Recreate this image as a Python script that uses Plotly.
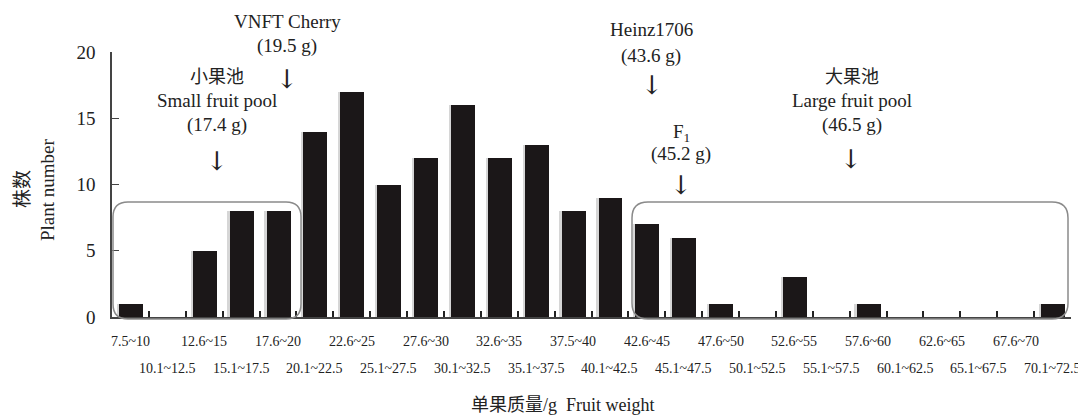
import plotly.graph_objects as go

categories = ["7.5~10", "10.1~12.5", "12.6~15", "15.1~17.5", "17.6~20", "20.1~22.5",
              "22.6~25", "25.1~27.5", "27.6~30", "30.1~32.5", "32.6~35", "35.1~37.5",
              "37.5~40", "40.1~42.5", "42.6~45", "45.1~47.5", "47.6~50", "50.1~52.5",
              "52.6~55", "55.1~57.5", "57.6~60", "60.1~62.5", "62.6~65", "65.1~67.5",
              "67.6~70", "70.1~72.5"]
plant_number = [1, 0, 5, 8, 8, 14, 17, 10, 12, 16, 12, 13, 8, 9, 7, 6, 1, 0, 3, 0, 1, 0, 0, 0, 0, 1]
y_ticks = [0, 5, 10, 15, 20]

FONT = "Liberation Serif, Times New Roman, Noto Sans CJK SC, serif"
ARROW_FONT = "DejaVu Serif, DejaVu Sans"
INK = "#222"

# page offset (browser default body margin)
OFF = 8
FW, FH = 1086 - OFF, 417 - OFF

fig = go.Figure()
fig.add_trace(go.Bar(x=categories, y=plant_number, marker=dict(color="#d6d6d6", line=dict(width=0)),
                     width=0.08, offset=-0.37, hoverinfo="skip"))
fig.add_trace(go.Bar(x=categories, y=plant_number, marker=dict(color="#1b1718", line=dict(width=0)),
                     width=0.65, offset=-0.31))

# plot area in page pixels
L, R, T, B = 112, 1071, 52, 317
W, H = R - L, B - T

def px(x):
    return (x - L) / W

def py(y):
    return (B - y) / H

def rounded_box(x0, y0, x1, y1, r):
    rx, ry = r / W, r / H
    a, b, c, d = px(x0), py(y1), px(x1), py(y0)  # left, bottom, right, top (paper)
    return (f"M {a},{b+ry} L {a},{d-ry} Q {a},{d} {a+rx},{d} L {c-rx},{d} Q {c},{d} {c},{d-ry} "
            f"L {c},{b+ry} Q {c},{b} {c-rx},{b} L {a+rx},{b} Q {a},{b} {a},{b+ry} Z")

shapes = [
    dict(type="path", xref="paper", yref="paper", path=rounded_box(113, 202, 301, 319, 15),
         line=dict(color="#8a8a8a", width=1.5)),
    dict(type="path", xref="paper", yref="paper", path=rounded_box(632, 202, 1068, 319, 16),
         line=dict(color="#8a8a8a", width=1.5)),
]

annotations = []
# category labels in two staggered rows
for i, c in enumerate(categories):
    annotations.append(dict(x=c, xref="x", y=py(341 if i % 2 == 0 else 368), yref="paper",
                            text=c, showarrow=False, font=dict(size=14, family=FONT, color=INK),
                            xanchor="center", yanchor="middle"))

def txt(xp, yp, t, size=19, family=FONT, angle=0):
    annotations.append(dict(x=px(xp), y=py(yp), xref="paper", yref="paper", text=t, showarrow=False,
                            font=dict(size=size, family=family, color=INK), textangle=angle,
                            xanchor="center", yanchor="middle"))

txt(287, 21, "VNFT Cherry")
txt(287, 46, "(19.5 g)")
txt(287, 79, "↓", 26, ARROW_FONT)
txt(217, 77, "小果池", 18)
txt(217, 101, "Small fruit pool")
txt(217, 125, "(17.4 g)")
txt(217, 161, "↓", 26, ARROW_FONT)
txt(651, 29, "Heinz1706")
txt(651, 56, "(43.6 g)")
txt(652, 85, "↓", 26, ARROW_FONT)
txt(681, 133, "F<sub>1</sub>")
txt(681, 154, "(45.2 g)")
txt(681, 185, "↓", 26, ARROW_FONT)
txt(852, 77, "大果池", 18)
txt(852, 101, "Large fruit pool")
txt(852, 125, "(46.5 g)")
txt(851, 159, "↓", 26, ARROW_FONT)
txt(563, 405, "单果质量/g  Fruit weight", 18)
txt(22, 189, "株数", 19, angle=-90)
txt(47, 190, "Plant number", 19, angle=-90)

fig.update_layout(
    width=FW, height=FH,
    margin=dict(l=L - OFF, r=FW - (R - OFF), t=T - OFF, b=FH - (B - OFF), pad=0),
    plot_bgcolor="white", paper_bgcolor="white",
    barmode="overlay", showlegend=False, bargap=0,
    font=dict(family=FONT, color=INK),
    shapes=shapes, annotations=annotations,
    xaxis=dict(type="category", showticklabels=False, ticks="inside", tickson="boundaries",
               ticklen=6, tickwidth=2, tickcolor=INK, showline=True, linecolor="#444",
               linewidth=1.5, showgrid=False, range=[-0.5, 25.5], fixedrange=True),
    yaxis=dict(range=[0, 20], tickvals=y_ticks, ticks="inside", ticklen=7, tickcolor="#444",
               showline=True, linecolor="#444", linewidth=1.5, showgrid=False, zeroline=False,
               tickfont=dict(size=19, family=FONT, color=INK), ticklabelstandoff=11),
)

fig.write_html("out.html")
